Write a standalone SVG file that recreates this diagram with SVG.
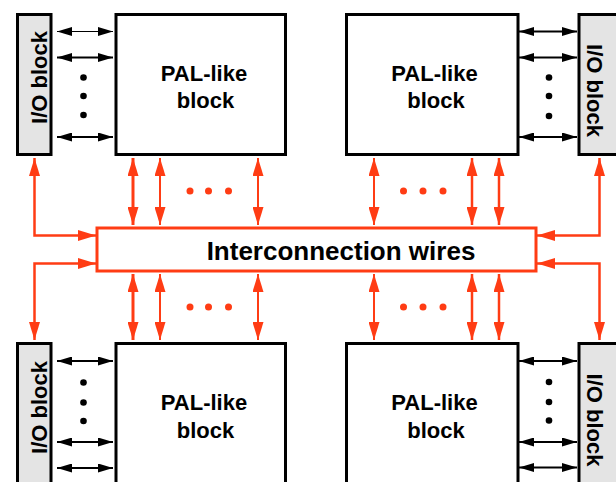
<svg xmlns="http://www.w3.org/2000/svg" width="616" height="482" viewBox="0 0 616 482">
<style>
.pal{fill:#fff;stroke:#000;stroke-width:3}
.io{fill:#e4e4e4;stroke:#000;stroke-width:3}
.t{font-family:"Liberation Sans",Arial,sans-serif;font-weight:bold;font-size:22px;fill:#000;text-anchor:middle}
.bw{stroke:#000;stroke-width:2;fill:none;marker-start:url(#ahb);marker-end:url(#ahb)}
.rw{stroke:#ff3c14;stroke-width:2.5;fill:none;marker-start:url(#ahr);marker-end:url(#ahr)}
.rl{stroke:#ff3c14;stroke-width:2.5;fill:none;marker-end:url(#ahr)}
.bd{fill:#000}
.rd{fill:#ff3c14}
</style>
<defs>
<marker id="ahb" viewBox="0 0 15 9" refX="15" refY="4.5" markerWidth="15" markerHeight="9" markerUnits="userSpaceOnUse" orient="auto-start-reverse"><path d="M0,0 L15,4.5 L0,9 z" fill="#000"/></marker>
<marker id="ahr" viewBox="0 0 18 11" refX="18" refY="5.5" markerWidth="18" markerHeight="11" markerUnits="userSpaceOnUse" orient="auto-start-reverse"><path d="M0,0 L18,5.5 L0,11 z" fill="#ff3c14"/></marker>
</defs>

<g id="connectors">
  <!-- black I/O to PAL arrows -->
  <line class="bw" x1="57" y1="31.5" x2="113" y2="31.5" style="stroke-width:1"/>
  <line class="bw" x1="57" y1="57.5" x2="113" y2="57.5"/>
  <line class="bw" x1="57" y1="137" x2="113" y2="137"/>
  <line class="bw" x1="519" y1="31.5" x2="577" y2="31.5"/>
  <line class="bw" x1="519" y1="57.5" x2="577" y2="57.5"/>
  <line class="bw" x1="519" y1="137" x2="577" y2="137"/>
  <line class="bw" x1="57" y1="361" x2="113" y2="361"/>
  <line class="bw" x1="57" y1="442" x2="113" y2="442"/>
  <line class="bw" x1="57" y1="468" x2="113" y2="468"/>
  <line class="bw" x1="519" y1="361" x2="577" y2="361"/>
  <line class="bw" x1="519" y1="442" x2="577" y2="442"/>
  <line class="bw" x1="519" y1="467.5" x2="577" y2="467.5"/>
  <!-- red PAL to interconnection arrows -->
  <line class="rw" x1="133" y1="158" x2="133" y2="225" style="stroke-width:3"/>
  <line class="rw" x1="160" y1="158" x2="160" y2="225" style="stroke-width:2"/>
  <line class="rw" x1="258" y1="158" x2="258" y2="225" style="stroke-width:2"/>
  <line class="rw" x1="374" y1="158" x2="374" y2="225" style="stroke-width:2"/>
  <line class="rw" x1="472" y1="158" x2="472" y2="225"/>
  <line class="rw" x1="499" y1="158" x2="499" y2="225"/>
  <line class="rw" x1="133" y1="274" x2="133" y2="340" style="stroke-width:3"/>
  <line class="rw" x1="160" y1="274" x2="160" y2="340" style="stroke-width:2"/>
  <line class="rw" x1="258" y1="274" x2="258" y2="340" style="stroke-width:2"/>
  <line class="rw" x1="374" y1="274" x2="374" y2="340" style="stroke-width:2"/>
  <line class="rw" x1="472" y1="274" x2="472" y2="340"/>
  <line class="rw" x1="499" y1="274" x2="499" y2="340"/>
  <!-- I/O to interconnection -->
  <path class="rw" d="M34.5,158 V235.5 H96"/>
  <path class="rw" d="M599.5,158 V235.5 H537"/>
  <path class="rw" d="M34.5,340 V263.5 H96"/>
  <path class="rw" d="M599.5,340 V263.5 H537"/>
  <!-- dots -->
  <g class="bd">
    <circle cx="83.5" cy="77.5" r="3.3"/><circle cx="83.5" cy="96" r="3.3"/><circle cx="83.5" cy="115" r="3.3"/>
    <circle cx="549" cy="77.5" r="3.3"/><circle cx="549" cy="96" r="3.3"/><circle cx="549" cy="116" r="3.3"/>
    <circle cx="83.5" cy="382.5" r="3.3"/><circle cx="83.5" cy="402.5" r="3.3"/><circle cx="83.5" cy="421" r="3.3"/>
    <circle cx="549" cy="382" r="3.3"/><circle cx="549" cy="402" r="3.3"/><circle cx="549" cy="420.5" r="3.3"/>
  </g>
  <g class="rd">
    <circle cx="190" cy="191" r="3.5"/><circle cx="208.5" cy="191" r="3.5"/><circle cx="228.5" cy="191" r="3.5"/>
    <circle cx="403.5" cy="191" r="3.5"/><circle cx="423" cy="191" r="3.5"/><circle cx="443" cy="191" r="3.5"/>
    <circle cx="190" cy="307" r="3.5"/><circle cx="208.5" cy="307" r="3.5"/><circle cx="228.5" cy="307" r="3.5"/>
    <circle cx="403.5" cy="307" r="3.5"/><circle cx="423" cy="307" r="3.5"/><circle cx="443" cy="307" r="3.5"/>
  </g>
</g>

<g id="interconnect">
  <rect x="97" y="228" width="439" height="43" fill="#fff" stroke="#ff3c14" stroke-width="3"/>
  <text class="t" x="341" y="259.5" style="font-size:26px">Interconnection wires</text>
</g>

<g id="pal-tl">
  <rect class="pal" x="116" y="14.5" width="169.5" height="140"/>
  <text class="t" x="204" y="81">PAL-like</text>
  <text class="t" x="205.5" y="108">block</text>
</g>
<g id="pal-tr">
  <rect class="pal" x="346.5" y="14.5" width="171.5" height="140"/>
  <text class="t" x="434.5" y="81">PAL-like</text>
  <text class="t" x="436" y="108">block</text>
</g>
<g id="pal-bl">
  <rect class="pal" x="116" y="343.5" width="169.5" height="145"/>
  <text class="t" x="204" y="410">PAL-like</text>
  <text class="t" x="205.5" y="437.5">block</text>
</g>
<g id="pal-br">
  <rect class="pal" x="346.5" y="343.5" width="171.5" height="145"/>
  <text class="t" x="434.5" y="410">PAL-like</text>
  <text class="t" x="436" y="437.5">block</text>
</g>

<g id="io-tl">
  <rect class="io" x="17.5" y="14.5" width="33.5" height="140"/>
  <text class="t" transform="translate(47,77.5) rotate(-90)">I/O block</text>
</g>
<g id="io-tr">
  <rect class="io" x="579" y="14.5" width="45" height="140"/>
  <text class="t" transform="translate(587,90.5) rotate(90)">I/O block</text>
</g>
<g id="io-bl">
  <rect class="io" x="17.5" y="343.5" width="33.5" height="145"/>
  <text class="t" transform="translate(47,407.5) rotate(-90)">I/O block</text>
</g>
<g id="io-br">
  <rect class="io" x="579" y="343.5" width="45" height="145"/>
  <text class="t" transform="translate(587,420) rotate(90)">I/O block</text>
</g>
</svg>
